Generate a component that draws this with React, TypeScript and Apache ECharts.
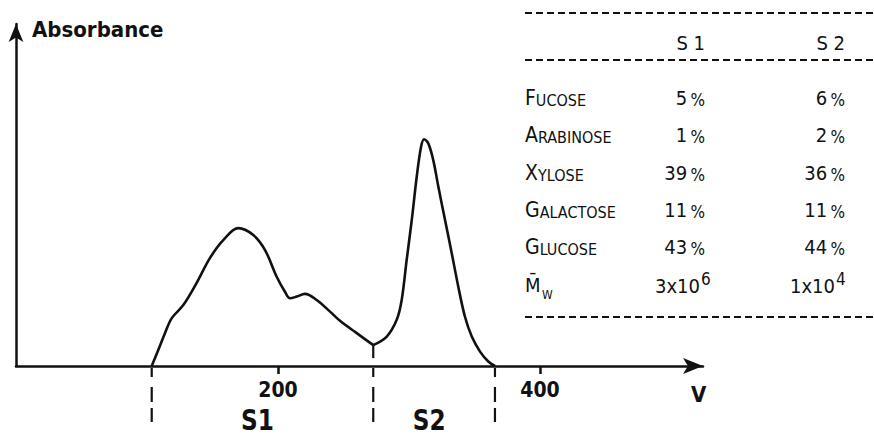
import React, { useEffect, useRef } from 'react';
import * as echarts from 'echarts';

// elution profile (V vs absorbance), split at the S1/S2 valley
const curveS1: [number, number][] = [
  [103.6, 0], [108.6, 0.047], [113.7, 0.096], [118.9, 0.14], [127.7, 0.178],
  [137.9, 0.243], [148.1, 0.316], [158.2, 0.368], [169.7, 0.403], [181.1, 0.383],
  [190.1, 0.339], [199.0, 0.261], [205.3, 0.217], [209.2, 0.198], [214.3, 0.203],
  [220.6, 0.211], [229.5, 0.193], [239.7, 0.159], [247.3, 0.132], [260.1, 0.096],
  [272.7, 0.061],
];
const curveS2: [number, number][] = [
  [272.7, 0.061], [283.0, 0.086], [290.6, 0.135], [294.4, 0.193], [298.2, 0.31],
  [302.1, 0.427], [305.9, 0.554], [309.2, 0.641], [311.5, 0.663], [314.7, 0.651],
  [318.5, 0.602], [322.4, 0.524], [327.5, 0.427], [332.6, 0.33], [337.6, 0.232],
  [342.7, 0.144], [347.9, 0.086], [354.2, 0.042], [360.5, 0.013], [365.6, 0],
];
// fraction boundaries: [V, absorbance at the boundary]
const dividers: [number, number][] = [[103.6, 0], [272.7, 0.061], [365.6, 0]];
const fractionNames = ['S1', 'S2'];
const xTickValues = [200, 400];

// composition table
const tableHeaders = ['S 1', 'S 2'];
const sugars = ['Fucose', 'Arabinose', 'Xylose', 'Galactose', 'Glucose'];
const s1Pct = [5, 1, 39, 11, 43];
const s2Pct = [6, 2, 36, 11, 44];
const mwMantissa = ['3x10', '1x10'];
const mwExponent = ['6', '4'];

const INK = '#111';
const FONT = "'DejaVu Sans Condensed', 'Liberation Sans Narrow', 'DejaVu Sans', sans-serif";

export default function App() {
  const ref = useRef<HTMLDivElement>(null);
  useEffect(() => {
    if (!ref.current) return;
    const chart = echarts.init(ref.current, null, { renderer: 'svg' });

    const dashSegs = [[2, 11], [21, 36], [42, 56]];
    const regions = fractionNames.map((n, i) => [dividers[i][0], dividers[i + 1][0], i]);

    const colRight = [705, 845];
    const rowY = [98, 135, 173, 210, 247, 285];
    const tableX = 525;

    const graphic: any[] = [];
    [13, 60, 317].forEach((y) => {
      graphic.push({
        type: 'line', shape: { x1: tableX, y1: y, x2: 874, y2: y },
        style: { stroke: INK, lineWidth: 1.8, lineDash: [7, 4] }, silent: true,
      });
    });
    tableHeaders.forEach((h, i) => {
      graphic.push({
        type: 'text', x: colRight[i], y: 43,
        style: { text: h, fill: INK, font: `20px ${FONT}`, align: 'right', verticalAlign: 'middle' },
      });
    });
    const rowRich = {
      c: { fontSize: 21, lineHeight: 21, verticalAlign: 'bottom', fontFamily: FONT, fill: INK },
      s: { fontSize: 16, lineHeight: 16, verticalAlign: 'bottom', fontFamily: FONT, fill: INK },
      n: { fontSize: 20, lineHeight: 20, verticalAlign: 'bottom', fontFamily: FONT, fill: INK },
      p: { fontSize: 17, lineHeight: 17, verticalAlign: 'bottom', fontFamily: FONT, fill: INK },
    };
    sugars.forEach((name, r) => {
      const up = name.toUpperCase();
      graphic.push({
        type: 'text', x: tableX, y: rowY[r],
        style: { text: `{c|${up[0]}}{s|${up.slice(1)}}`, rich: rowRich, align: 'left', verticalAlign: 'middle' },
      });
      [s1Pct[r], s2Pct[r]].forEach((v, c) => {
        graphic.push({
          type: 'text', x: colRight[c], y: rowY[r],
          style: { text: `{n|${v}} {p|%}`, rich: rowRich, align: 'right', verticalAlign: 'middle' },
        });
      });
    });
    // Mw row
    graphic.push({
      type: 'text', x: tableX, y: 285,
      style: { text: 'M\u0304', fill: INK, font: `20px ${FONT}`, align: 'left', verticalAlign: 'middle' },
    });
    graphic.push({
      type: 'text', x: tableX + 17, y: 295,
      style: { text: 'W', fill: INK, font: `12px ${FONT}`, align: 'left', verticalAlign: 'middle' },
    });
    mwMantissa.forEach((m, c) => {
      const right = c === 0 ? colRight[0] - 5 : colRight[1] - 10;
      graphic.push({
        type: 'text', x: right, y: 286,
        style: { text: m, fill: INK, font: `20px ${FONT}`, align: 'right', verticalAlign: 'middle' },
      });
      graphic.push({
        type: 'text', x: right + 1, y: 279,
        style: { text: mwExponent[c], fill: INK, font: `17px ${FONT}`, align: 'left', verticalAlign: 'middle' },
      });
    });

    chart.setOption({
      animation: false,
      backgroundColor: '#fff',
      grid: { left: 16, top: 24, right: 171, bottom: 70 },
      xAxis: {
        type: 'value', min: 0, max: 524.4, interval: 200,
        name: 'V', nameLocation: 'end', nameGap: -12,
        nameTextStyle: { color: INK, fontSize: 22, fontWeight: 'bold', fontFamily: FONT, align: 'left', verticalAlign: 'top', padding: [17, 0, 0, 0] },
        axisLine: { show: true, symbol: ['none', 'arrow'], symbolSize: [12, 20], lineStyle: { color: INK, width: 2.5 } },
        axisTick: { show: true, length: 8, lineStyle: { color: INK, width: 2.5 }, customValues: xTickValues },
        axisLabel: { color: INK, fontSize: 21, fontWeight: 'bold', fontFamily: FONT, margin: 13, customValues: xTickValues },
        splitLine: { show: false },
      },
      yAxis: {
        type: 'value', min: 0, max: 1,
        name: 'Absorbance', nameLocation: 'end', nameGap: -5,
        nameTextStyle: { color: INK, fontSize: 22, fontWeight: 'bold', fontFamily: FONT, align: 'left', verticalAlign: 'middle', padding: [0, 0, 0, 16] },
        axisLine: { show: true, symbol: ['none', 'arrow'], symbolSize: [11, 18], lineStyle: { color: INK, width: 2.5 } },
        axisTick: { show: false },
        axisLabel: { show: false },
        splitLine: { show: false },
      },
      series: [
        {
          type: 'line', data: curveS1, smooth: 0.35, showSymbol: false, symbol: 'none',
          lineStyle: { color: INK, width: 2.6 }, silent: true,
        },
        {
          type: 'line', data: curveS2, smooth: 0.35, showSymbol: false, symbol: 'none',
          lineStyle: { color: INK, width: 2.6 }, silent: true,
        },
        {
          type: 'custom', data: dividers, silent: true, clip: false,
          renderItem: (params: any, api: any) => {
            const x = api.value(0);
            const y = api.value(1);
            const base = api.coord([x, 0]);
            const children: any[] = [];
            if (y > 0) {
              const top = api.coord([x, y]);
              children.push({ type: 'line', shape: { x1: top[0], y1: top[1], x2: top[0], y2: top[1] + 13 }, style: { stroke: INK, lineWidth: 2.2 } });
            }
            dashSegs.forEach(([a, b]) => {
              children.push({ type: 'line', shape: { x1: base[0], y1: base[1] + a, x2: base[0], y2: base[1] + b }, style: { stroke: INK, lineWidth: 2.2 } });
            });
            return { type: 'group', children };
          },
        },
        {
          type: 'custom', data: regions, silent: true, clip: false,
          renderItem: (params: any, api: any) => {
            const a = api.value(0);
            const b = api.value(1);
            const i = api.value(2);
            const p = api.coord([(a + b) / 2, 0]);
            return {
              type: 'text', x: p[0] - 5, y: p[1] + 69, scaleX: 0.8,
              style: { text: fractionNames[i], fill: INK, font: `bold 29px 'DejaVu Sans'`, align: 'center', verticalAlign: 'bottom' },
            };
          },
        },
      ],
      graphic,
    });
    return () => chart.dispose();
  }, []);
  return <div ref={ref} style={{ position: 'fixed', left: 0, top: 0, width: 874, height: 436 }} />;
}
